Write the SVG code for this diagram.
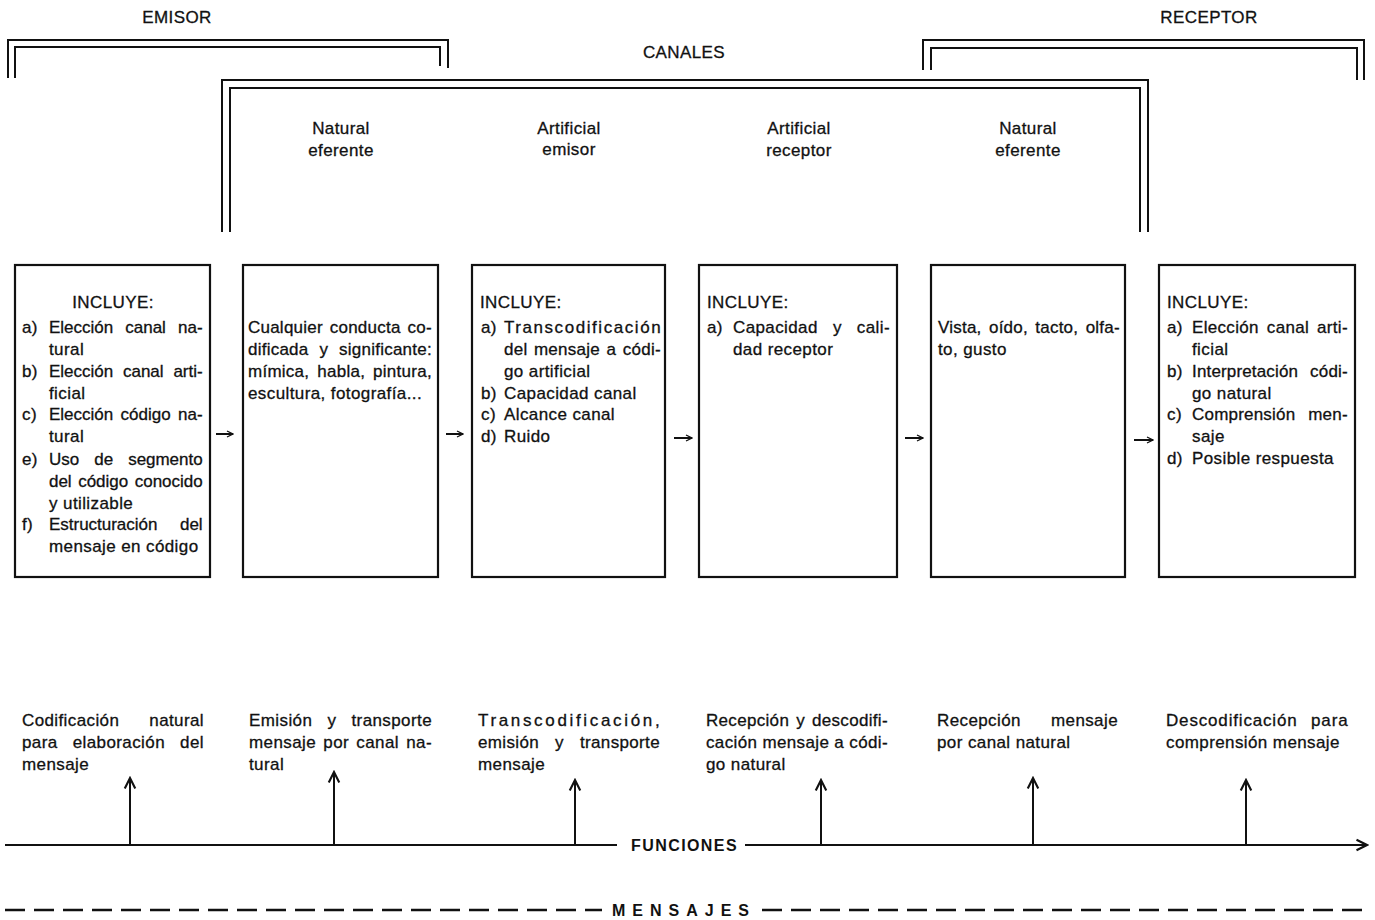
<svg xmlns="http://www.w3.org/2000/svg" width="1375" height="920" viewBox="0 0 1375 920">
<style>
.t{font-family:"Liberation Sans",Arial,Helvetica,sans-serif;font-size:17px;fill:#111;stroke:#111;stroke-width:0.3;letter-spacing:0.4px}
.c{text-anchor:middle}
.b{font-weight:bold;stroke-width:0}
.br{fill:none;stroke:#111;stroke-width:2}
.box{fill:#fff;stroke:#111;stroke-width:2.2}
.ln{fill:none;stroke:#111;stroke-width:2}
.dash{fill:none;stroke:#111;stroke-width:2.5;stroke-dasharray:20 9}
</style>
<defs>
<marker id="ah" markerUnits="userSpaceOnUse" markerWidth="14" markerHeight="14" refX="10" refY="5" orient="auto" viewBox="0 0 12 10">
<path d="M1,0.5 L10,5 L1,9.5" fill="none" stroke="#111" stroke-width="1.8"/>
</marker>
<marker id="sh" markerUnits="userSpaceOnUse" markerWidth="8" markerHeight="8" refX="7" refY="3.5" orient="auto" viewBox="0 0 8 7">
<path d="M1,0.5 L7,3.5 L1,6.5" fill="none" stroke="#111" stroke-width="1.3"/>
</marker>
</defs>
<rect width="1375" height="920" fill="#fff"/>

<g id="bracket-emisor">
<path class="br" d="M8,78 V40 H448 V68"/>
<path class="br" d="M15,78 V47 H440 V66"/>
<text class="t c" x="177" y="23">EMISOR</text>
</g>
<g id="bracket-receptor">
<path class="br" d="M923,70 V40 H1364 V80"/>
<path class="br" d="M931,70 V48 H1357 V80"/>
<text class="t c" x="1209" y="23">RECEPTOR</text>
</g>
<g id="bracket-canales">
<path class="br" d="M222,232 V80 H1148 V232"/>
<path class="br" d="M230,232 V88 H1140 V232"/>
<text class="t c" x="684" y="58">CANALES</text>
<text class="t c" x="341" y="134">Natural</text>
<text class="t c" x="341" y="156">eferente</text>
<text class="t c" x="569" y="134">Artificial</text>
<text class="t c" x="569" y="155">emisor</text>
<text class="t c" x="799" y="134">Artificial</text>
<text class="t c" x="799" y="156">receptor</text>
<text class="t c" x="1028" y="134">Natural</text>
<text class="t c" x="1028" y="156">eferente</text>
</g>

<g id="box-emisor">
<rect class="box" x="15" y="265" width="195" height="312"/>
<text class="t c" x="113" y="308">INCLUYE:</text>
<text class="t" x="22" y="333">a)</text>
<text class="t" x="49" y="333" textLength="154" lengthAdjust="spacing" word-spacing="7.5">Elección canal na-</text>
<text class="t" x="49" y="355">tural</text>
<text class="t" x="22" y="377">b)</text>
<text class="t" x="49" y="377" textLength="154" lengthAdjust="spacing" word-spacing="5.2">Elección canal arti-</text>
<text class="t" x="49" y="399">ficial</text>
<text class="t" x="22" y="420">c)</text>
<text class="t" x="49" y="420" textLength="154" lengthAdjust="spacing" word-spacing="2.8">Elección código na-</text>
<text class="t" x="49" y="442">tural</text>
<text class="t" x="22" y="465">e)</text>
<text class="t" x="49" y="465" textLength="154" lengthAdjust="spacing" word-spacing="10.4">Uso de segmento</text>
<text class="t" x="49" y="487" textLength="154" lengthAdjust="spacing" word-spacing="1.9">del código conocido</text>
<text class="t" x="49" y="509">y utilizable</text>
<text class="t" x="22" y="530">f)</text>
<text class="t" x="49" y="530" textLength="154" lengthAdjust="spacing" word-spacing="17.9">Estructuración del</text>
<text class="t" x="49" y="552">mensaje en código</text>
</g>

<g id="box-natural-eferente">
<rect class="box" x="243" y="265" width="195" height="312"/>
<text class="t" x="248" y="333" textLength="184" lengthAdjust="spacing" word-spacing="2">Cualquier conducta co-</text>
<text class="t" x="248" y="355" textLength="184" lengthAdjust="spacing" word-spacing="6">dificada y significante:</text>
<text class="t" x="248" y="377" textLength="184" lengthAdjust="spacing" word-spacing="3">mímica, habla, pintura,</text>
<text class="t" x="248" y="399">escultura, fotografía...</text>
</g>

<g id="box-artificial-emisor">
<rect class="box" x="472" y="265" width="193" height="312"/>
<text class="t" x="480" y="308">INCLUYE:</text>
<text class="t" x="481" y="333">a)</text>
<text class="t" x="504" y="333" textLength="157" lengthAdjust="spacing">Transcodificación</text>
<text class="t" x="504" y="355" textLength="157" lengthAdjust="spacing" word-spacing="1.5">del mensaje a códi-</text>
<text class="t" x="504" y="377">go artificial</text>
<text class="t" x="481" y="399">b)</text>
<text class="t" x="504" y="399">Capacidad canal</text>
<text class="t" x="481" y="420">c)</text>
<text class="t" x="504" y="420">Alcance canal</text>
<text class="t" x="481" y="442">d)</text>
<text class="t" x="504" y="442">Ruido</text>
</g>

<g id="box-artificial-receptor">
<rect class="box" x="699" y="265" width="198" height="312"/>
<text class="t" x="707" y="308">INCLUYE:</text>
<text class="t" x="707" y="333">a)</text>
<text class="t" x="733" y="333" textLength="157" lengthAdjust="spacing" word-spacing="10">Capacidad y cali-</text>
<text class="t" x="733" y="355">dad receptor</text>
</g>

<g id="box-natural-eferente-2">
<rect class="box" x="931" y="265" width="194" height="312"/>
<text class="t" x="938" y="333" textLength="182" lengthAdjust="spacing" word-spacing="2.5">Vista, oído, tacto, olfa-</text>
<text class="t" x="938" y="355">to, gusto</text>
</g>

<g id="box-receptor">
<rect class="box" x="1159" y="265" width="196" height="312"/>
<text class="t" x="1167" y="308">INCLUYE:</text>
<text class="t" x="1167" y="333">a)</text>
<text class="t" x="1192" y="333" textLength="156" lengthAdjust="spacing" word-spacing="3">Elección canal arti-</text>
<text class="t" x="1192" y="355">ficial</text>
<text class="t" x="1167" y="377">b)</text>
<text class="t" x="1192" y="377" textLength="156" lengthAdjust="spacing" word-spacing="7">Interpretación códi-</text>
<text class="t" x="1192" y="399">go natural</text>
<text class="t" x="1167" y="420">c)</text>
<text class="t" x="1192" y="420" textLength="156" lengthAdjust="spacing" word-spacing="8">Comprensión men-</text>
<text class="t" x="1192" y="442">saje</text>
<text class="t" x="1167" y="464">d)</text>
<text class="t" x="1192" y="464">Posible respuesta</text>
</g>

<g id="func-1">
<text class="t" x="22" y="726" textLength="182" lengthAdjust="spacing" word-spacing="25">Codificación natural</text>
<text class="t" x="22" y="748" textLength="182" lengthAdjust="spacing" word-spacing="10">para elaboración del</text>
<text class="t" x="22" y="770">mensaje</text>
</g>
<g id="func-2">
<text class="t" x="249" y="726" textLength="183" lengthAdjust="spacing" word-spacing="10">Emisión y transporte</text>
<text class="t" x="249" y="748" textLength="183" lengthAdjust="spacing" word-spacing="2">mensaje por canal na-</text>
<text class="t" x="249" y="770">tural</text>
</g>
<g id="func-3">
<text class="t" x="478" y="726" textLength="182" lengthAdjust="spacing">Transcodificación,</text>
<text class="t" x="478" y="748" textLength="182" lengthAdjust="spacing" word-spacing="11">emisión y transporte</text>
<text class="t" x="478" y="770">mensaje</text>
</g>
<g id="func-4">
<text class="t" x="706" y="726" textLength="182" lengthAdjust="spacing" word-spacing="2">Recepción y descodifi-</text>
<text class="t" x="706" y="748" textLength="182" lengthAdjust="spacing" word-spacing="0">cación mensaje a códi-</text>
<text class="t" x="706" y="770">go natural</text>
</g>
<g id="func-5">
<text class="t" x="937" y="726" textLength="181" lengthAdjust="spacing" word-spacing="25">Recepción mensaje</text>
<text class="t" x="937" y="748">por canal natural</text>
</g>
<g id="func-6">
<text class="t" x="1166" y="726" textLength="182" lengthAdjust="spacing" word-spacing="8">Descodificación para</text>
<text class="t" x="1166" y="748">comprensión mensaje</text>
</g>

<g id="label-funciones">
<text class="t b" x="631" y="851" textLength="106" lengthAdjust="spacing" style="font-size:16px">FUNCIONES</text>
</g>
<g id="label-mensajes">
<text class="t b" x="612" y="916" style="font-size:16px;letter-spacing:7px">MENSAJES</text>
</g>

<g id="connectors">
<path class="ln" d="M216,434 H233" stroke-width="1.4" marker-end="url(#sh)"/>
<path class="ln" d="M446,434 H463" stroke-width="1.4" marker-end="url(#sh)"/>
<path class="ln" d="M674,438 H692" stroke-width="1.4" marker-end="url(#sh)"/>
<path class="ln" d="M905,438 H923" stroke-width="1.4" marker-end="url(#sh)"/>
<path class="ln" d="M1134,440 H1153" stroke-width="1.4" marker-end="url(#sh)"/>
<path class="ln" d="M5,845 H617"/>
<path class="ln" d="M745,845 H1367" marker-end="url(#ah)"/>
<path class="ln" d="M130,845 V778" marker-end="url(#ah)"/>
<path class="ln" d="M334,845 V772" marker-end="url(#ah)"/>
<path class="ln" d="M575,845 V780" marker-end="url(#ah)"/>
<path class="ln" d="M821,845 V780" marker-end="url(#ah)"/>
<path class="ln" d="M1033,845 V778" marker-end="url(#ah)"/>
<path class="ln" d="M1246,845 V780" marker-end="url(#ah)"/>
<path class="dash" d="M5,910 H602"/>
<path class="dash" d="M762,910 H1366"/>
</g>
</svg>
